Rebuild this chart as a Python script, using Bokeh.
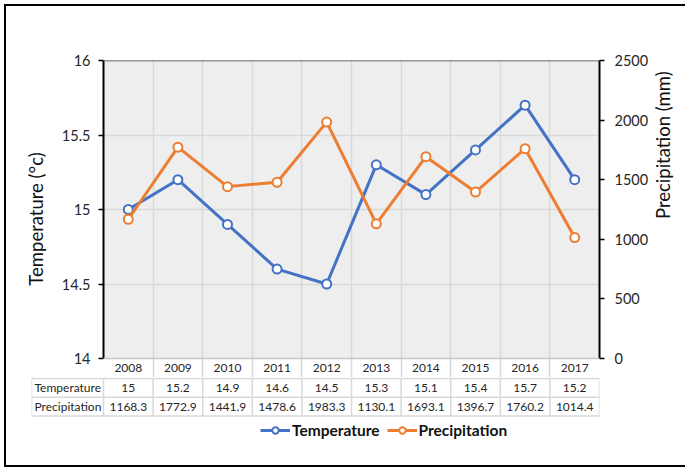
import math
from bokeh.plotting import figure
from bokeh.models import (Range1d, LinearAxis, FixedTicker, SingleIntervalTicker, Span,
                          Legend, LegendItem, NumeralTickFormatter, ColumnDataSource)
from bokeh.layouts import column
from bokeh.core.properties import value
from bokeh.embed import file_html
from bokeh.resources import INLINE

years = ["2008", "2009", "2010", "2011", "2012", "2013", "2014", "2015", "2016", "2017"]
temperature = [15, 15.2, 14.9, 14.6, 14.5, 15.3, 15.1, 15.4, 15.7, 15.2]
precipitation = [1168.3, 1772.9, 1441.9, 1478.6, 1983.3, 1130.1, 1693.1, 1396.7, 1760.2, 1014.4]
row_labels = ["Temperature", "Precipitation"]
temp_lim = (14, 16)
prec_lim = (0, 2500)

BLUE = "#4472C4"
ORANGE = "#ED7D31"
FONT = "Lato"
TXT = "#262626"
GRID = "#d9d9d9"

n = len(years)
xs = [i + 0.5 for i in range(n)]
src = ColumnDataSource(dict(x=xs, temp=temperature, prec=precipitation))

INNER_W, INNER_H = 673, 459
FRAME_W = 496
PLOT_H = 298          # height of the temperature/precipitation panel
YEAR_H = 19           # height of the year row of the table
LEFT = 97
RIGHT = INNER_W - LEFT - FRAME_W
TOP = 54

# data units per pixel on the two value axes
t_per_px = (temp_lim[1] - temp_lim[0]) / PLOT_H
p_per_px = (prec_lim[1] - prec_lim[0]) / PLOT_H

p = figure(frame_width=FRAME_W, frame_height=PLOT_H + YEAR_H, min_border_left=LEFT,
           min_border_right=RIGHT, min_border_top=TOP, min_border_bottom=0,
           x_range=Range1d(0, n), y_range=Range1d(temp_lim[0] - YEAR_H * t_per_px, temp_lim[1]),
           x_axis_location=None, output_backend="svg", toolbar_location=None,
           background_fill_color="white", border_fill_color="white", outline_line_color=None)
p.frame_align = False
p.extra_y_ranges = {"prec": Range1d(prec_lim[0] - YEAR_H * p_per_px, prec_lim[1])}

# grey plot area
p.quad(left=[0], right=[n], bottom=[temp_lim[0]], top=[temp_lim[1]], fill_color="#eeeeee",
       line_color=None, level="image")

ax = p.yaxis[0]
ax.ticker = SingleIntervalTicker(interval=0.5)
ax.formatter = NumeralTickFormatter(format="0.[0]")
ax.bounds = temp_lim
ax.axis_label = "Temperature (°c)"

rax = LinearAxis(y_range_name="prec", ticker=SingleIntervalTicker(interval=500), bounds=prec_lim)
p.add_layout(rax, "right")
rax.axis_label = "Precipitation (mm)"
rax.axis_label_orientation = math.pi / 2

for a, std in [(ax, 8), (rax, 10)]:
    a.axis_line_color = "black"
    a.axis_line_width = 2
    a.major_tick_line_color = "black"
    a.major_tick_line_width = 1.5
    a.major_tick_out = 5
    a.major_tick_in = 0
    a.minor_tick_out = 0
    a.minor_tick_in = 0
    a.major_label_standoff = std
    a.major_label_text_font = FONT
    a.major_label_text_font_size = "14.5px"
    a.major_label_text_color = TXT
    a.axis_label_text_font = FONT
    a.axis_label_text_font_size = "18.5px"
    a.axis_label_text_font_style = "normal"
    a.axis_label_text_color = "#111111"
ax.axis_label_standoff = 12
rax.axis_label_standoff = 12

p.xgrid.ticker = FixedTicker(ticks=list(range(0, n + 1)))
p.xgrid.grid_line_color = GRID
p.xgrid.grid_line_width = 1.5
p.ygrid.ticker = FixedTicker(ticks=[14.5, 15, 15.5])
p.ygrid.grid_line_color = GRID
p.ygrid.grid_line_width = 1.5

p.add_layout(Span(location=temp_lim[1], dimension="width", line_color="#3a3a3a", line_width=1.5))
p.add_layout(Span(location=temp_lim[0], dimension="width", line_color="#c8c8c8", line_width=1.5))

# year row (category labels)
year_y = temp_lim[0] - YEAR_H / 2 * t_per_px
common = dict(text_align="center", text_baseline="middle", text_font=value(FONT),
              text_font_size="12px", text_color=TXT)
p.text(x=xs, y=[year_y] * n, text=years, **common)

p.line("x", "temp", source=src, line_color=BLUE, line_width=3)
p.scatter("x", "temp", source=src, size=9, fill_color="white", line_color=BLUE, line_width=2)
p.line("x", "prec", source=src, y_range_name="prec", line_color=ORANGE, line_width=3)
p.scatter("x", "prec", source=src, y_range_name="prec", size=9, fill_color="white",
          line_color=ORANGE, line_width=2)

# ---- value rows of the data table + legend ----
LABEL_COL = 72
unit = FRAME_W / n
col_units = LABEL_COL / unit
T_H = INNER_H - TOP - PLOT_H - YEAR_H
rows = [0, 19, 38]

t = figure(frame_width=FRAME_W + LABEL_COL, frame_height=T_H, min_border_left=LEFT - LABEL_COL,
           min_border_right=RIGHT, min_border_top=0, min_border_bottom=0,
           x_range=Range1d(-col_units, n), y_range=Range1d(T_H, -1),
           x_axis_location=None, y_axis_location=None, output_backend="svg",
           toolbar_location=None, outline_line_color=None, background_fill_color="white",
           border_fill_color="white")
t.frame_align = False
t.xgrid.visible = False
t.ygrid.visible = False

t.segment(x0=[-col_units] * len(rows), y0=rows, x1=[n] * len(rows), y1=rows,
          line_color=GRID, line_width=1.5)
vx = [-col_units] + list(range(0, n + 1))
t.segment(x0=vx, y0=[rows[0]] * len(vx), x1=vx, y1=[rows[-1]] * len(vx),
          line_color=GRID, line_width=1.5)

mid = [(rows[k] + rows[k + 1]) / 2 for k in range(2)]
t.text(x=xs, y=[mid[0]] * n, text=[str(v) for v in temperature], **common)
t.text(x=xs, y=[mid[1]] * n, text=[str(v) for v in precipitation], **common)
t.text(x=[-col_units] * 2, y=mid, text=row_labels, x_offset=3, text_align="left",
       text_baseline="middle", text_font=value(FONT), text_font_size="12px", text_color=TXT)

# legend
nan = [float("nan")]
l1 = t.line(nan, nan, line_color=BLUE, line_width=3)
s1 = t.scatter(nan, nan, size=9, fill_color="white", line_color=BLUE, line_width=2)
l2 = t.line(nan, nan, line_color=ORANGE, line_width=3)
s2 = t.scatter(nan, nan, size=9, fill_color="white", line_color=ORANGE, line_width=2)
LEG_Y = 54
leg = Legend(items=[LegendItem(label="Temperature", renderers=[l1, s1]),
                    LegendItem(label="Precipitation", renderers=[l2, s2])],
             orientation="horizontal", location=(229, T_H - LEG_Y - 8),
             glyph_width=30, glyph_height=16, label_height=16, label_standoff=2, spacing=7,
             padding=0, margin=0, border_line_color=None, background_fill_alpha=0,
             label_text_font=FONT, label_text_font_size="15.5px", label_text_font_style="bold",
             label_text_color="#111111")
t.add_layout(leg)

layout = column(p, t, spacing=0,
                styles={"border": "2px solid black", "margin-left": "4px", "margin-top": "4px"})

open("out.html", "w").write(file_html(layout, INLINE))
